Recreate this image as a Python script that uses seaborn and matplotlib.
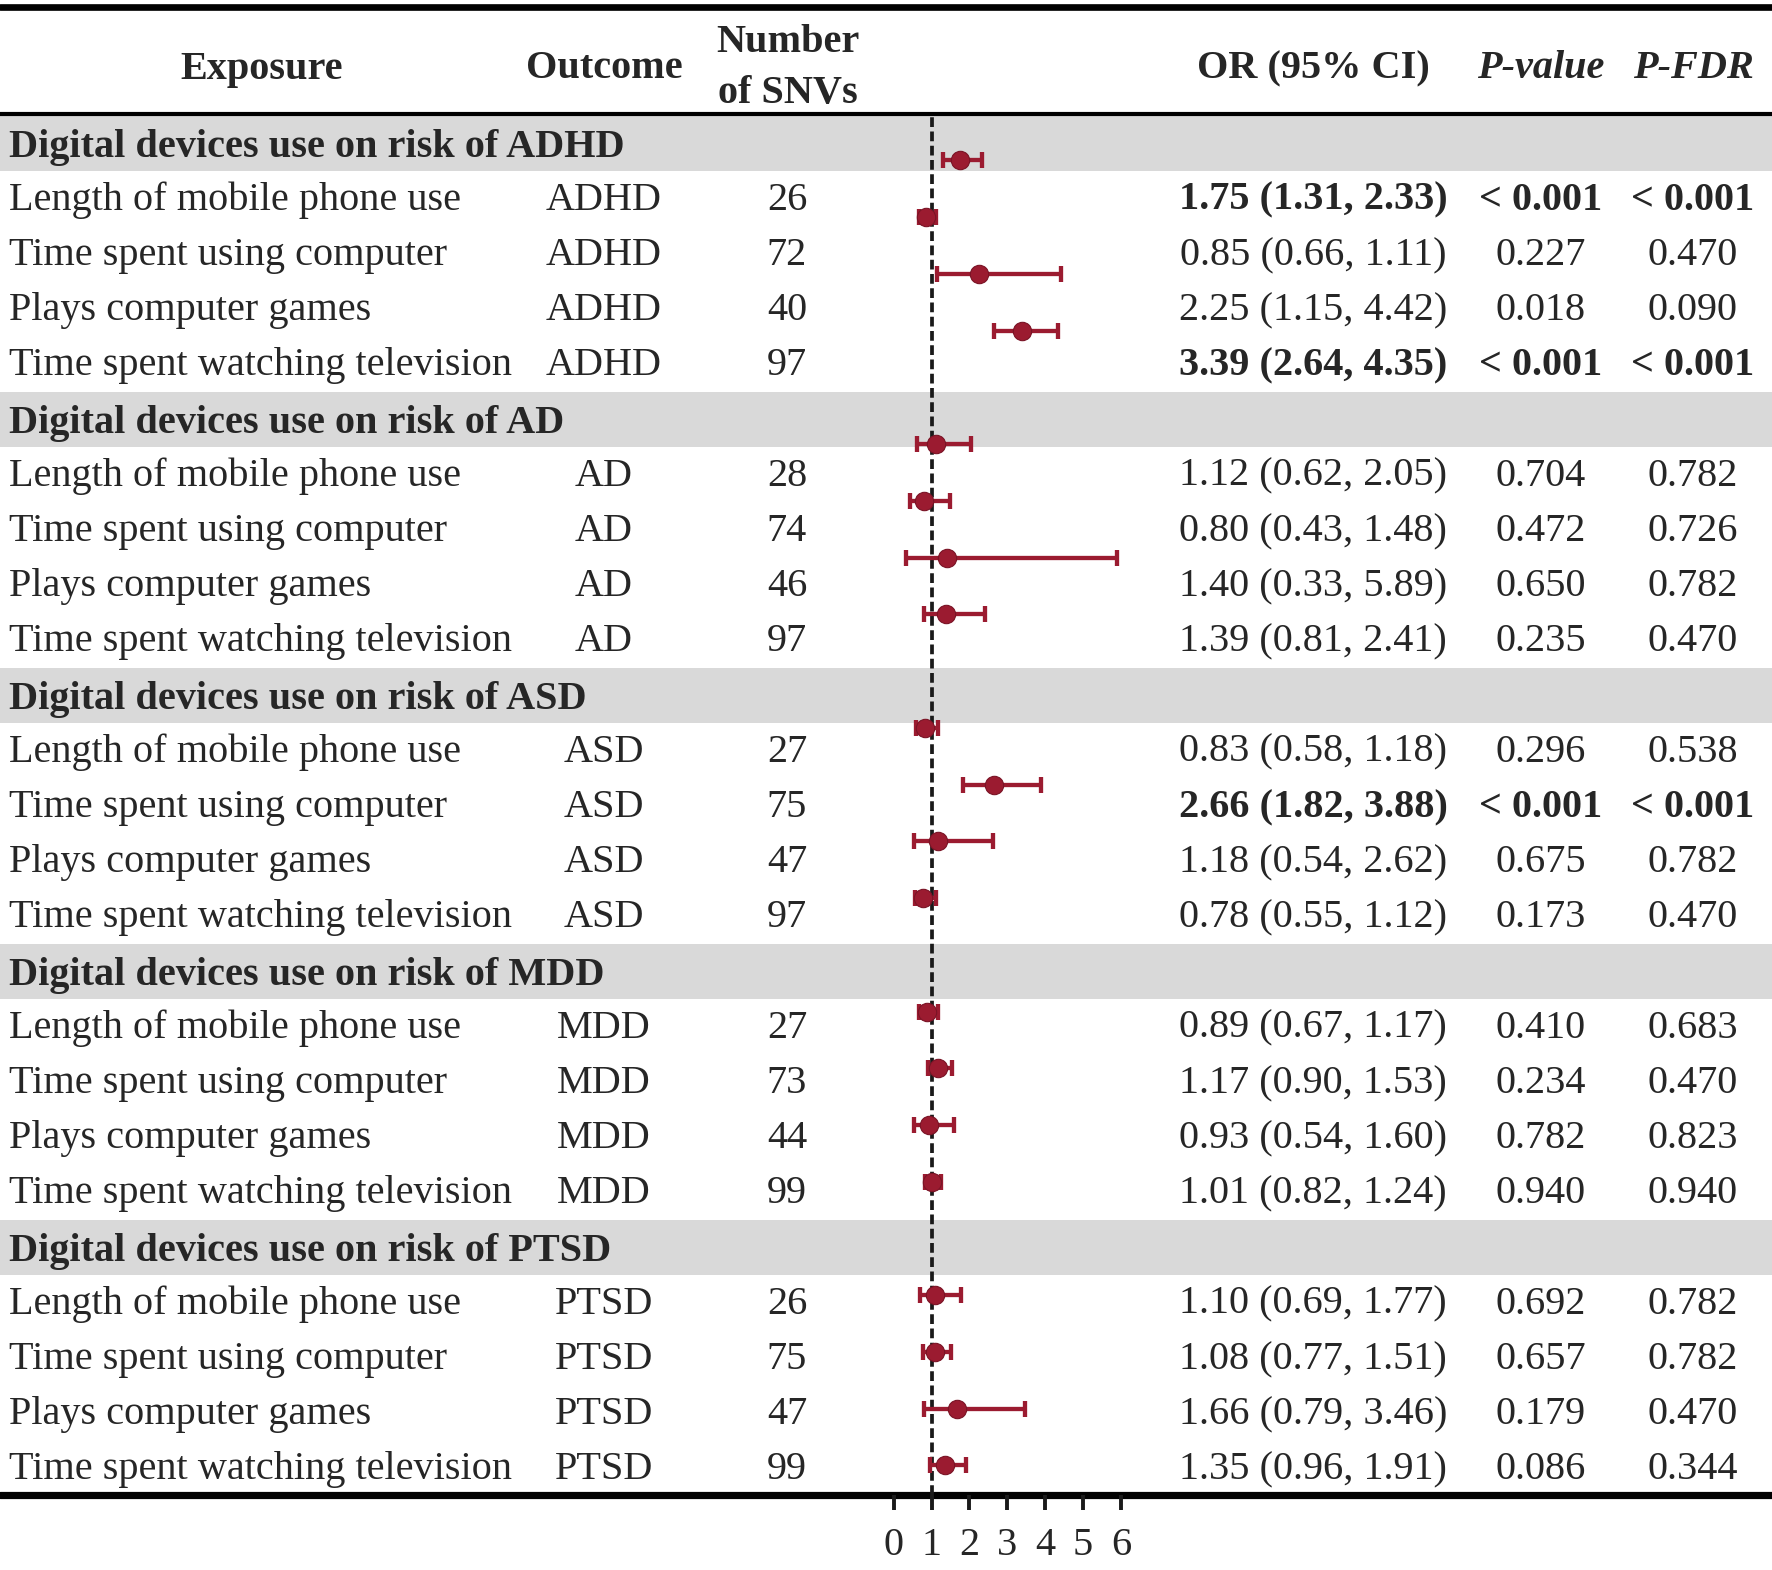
import matplotlib
matplotlib.use("Agg")
import matplotlib.pyplot as plt
import seaborn as sns
import pandas as pd

sns.set_style("white")
plt.rcParams["font.family"] = ["Liberation Serif", "DejaVu Serif"]

# Table data
outcomes = ["ADHD", "AD", "ASD", "MDD", "PTSD"]
exposures = [
    "Length of mobile phone use",
    "Time spent using computer",
    "Plays computer games",
    "Time spent watching television",
]
n_snvs = [26, 72, 40, 97, 28, 74, 46, 97, 27, 75, 47, 97, 27, 73, 44, 99, 26, 75, 47, 99]
or_vals = [1.75, 0.85, 2.25, 3.39, 1.12, 0.80, 1.40, 1.39, 0.83, 2.66, 1.18, 0.78,
           0.89, 1.17, 0.93, 1.01, 1.10, 1.08, 1.66, 1.35]
ci_lo = [1.31, 0.66, 1.15, 2.64, 0.62, 0.43, 0.33, 0.81, 0.58, 1.82, 0.54, 0.55,
         0.67, 0.90, 0.54, 0.82, 0.69, 0.77, 0.79, 0.96]
ci_hi = [2.33, 1.11, 4.42, 4.35, 2.05, 1.48, 5.89, 2.41, 1.18, 3.88, 2.62, 1.12,
         1.17, 1.53, 1.60, 1.24, 1.77, 1.51, 3.46, 1.91]
p_value = ["< 0.001", "0.227", "0.018", "< 0.001", "0.704", "0.472", "0.650", "0.235",
           "0.296", "< 0.001", "0.675", "0.173", "0.410", "0.234", "0.782", "0.940",
           "0.692", "0.657", "0.179", "0.086"]
p_fdr = ["< 0.001", "0.470", "0.090", "< 0.001", "0.782", "0.726", "0.782", "0.470",
         "0.538", "< 0.001", "0.782", "0.470", "0.683", "0.470", "0.823", "0.940",
         "0.782", "0.782", "0.470", "0.344"]
x_ticks = [0, 1, 2, 3, 4, 5, 6]

rows = []
for g, outc in enumerate(outcomes):
    for k, expo in enumerate(exposures):
        i = g * 4 + k
        rows.append({
            "exposure": expo, "outcome": outc, "n": n_snvs[i],
            "or": or_vals[i], "lo": ci_lo[i], "hi": ci_hi[i],
            "p": p_value[i], "fdr": p_fdr[i],
            "row": g * 5 + k + 1,
        })
df = pd.DataFrame(rows)

W, H = 1772, 1570
fig = plt.figure(figsize=(W / 100, H / 100), dpi=100)

# Table layer in pixel coordinates
ax_t = fig.add_axes([0, 0, 1, 1])
ax_t.set_xlim(0, W)
ax_t.set_ylim(H, 0)
ax_t.axis("off")

fs = 29
row_top0 = 116
row_h = 55.2
band_col = "#d9d9d9"

def row_center(r):
    return row_top0 + row_h * (r + 0.5)

ax_t.axhline(6.5, color="black", lw=4.8)
ax_t.axhline(113.5, color="black", lw=3)
ax_t.axhline(1495, color="black", lw=5.2, zorder=5)

hy = 69
ax_t.text(262, hy, "Exposure", ha="center", va="center", fontsize=fs, fontweight="bold")
ax_t.text(604, hy, "Outcome", ha="center", va="center", fontsize=fs, fontweight="bold")
ax_t.text(788, 43, "Number", ha="center", va="center", fontsize=fs, fontweight="bold")
ax_t.text(788, 94, "of SNVs", ha="center", va="center", fontsize=fs, fontweight="bold")
ax_t.text(1313, hy, "OR (95% CI)", ha="center", va="center", fontsize=fs, fontweight="bold")
ax_t.text(1541, hy, "P-value", ha="center", va="center", fontsize=fs,
          fontweight="bold", style="italic")
ax_t.text(1693, hy, "P-FDR", ha="center", va="center", fontsize=fs,
          fontweight="bold", style="italic")

for g, outc in enumerate(outcomes):
    r = g * 5
    top = row_top0 + row_h * r
    ax_t.axhspan(top, top + row_h, color=band_col, lw=0, zorder=0)
    ax_t.text(9, row_center(r) + 13, f"Digital devices use on risk of {outc}",
              ha="left", va="baseline", fontsize=fs, fontweight="bold")

for _, d in df.iterrows():
    y = row_center(d["row"]) + 11
    bold = d["fdr"] == "< 0.001"
    w = "bold" if bold else "normal"
    ax_t.text(9, y, d["exposure"], ha="left", va="baseline", fontsize=fs)
    ax_t.text(604, y, d["outcome"], ha="center", va="baseline", fontsize=fs)
    ax_t.text(787, y, str(d["n"]), ha="center", va="baseline", fontsize=fs)
    ax_t.text(1313, y, f"{d['or']:.2f} ({d['lo']:.2f}, {d['hi']:.2f})",
              ha="center", va="baseline", fontsize=fs, fontweight=w)
    ax_t.text(1541, y, d["p"], ha="center", va="baseline", fontsize=fs, fontweight=w)
    ax_t.text(1693, y, d["fdr"], ha="center", va="baseline", fontsize=fs, fontweight=w)

# Forest plot layer
fx0, fx1 = 838.5, 1172
fy_top, fy_bot = 113, 1495
ax_f = fig.add_axes([fx0 / W, (H - fy_bot) / H, (fx1 - fx0) / W, (fy_bot - fy_top) / H])
ax_f.set_facecolor("none")
ax_f.set_zorder(3)

red = "#9b1b30"
ax_f.axvline(1, color="#1a1a1a", lw=2.7, ls=(0, (2.6, 1.2)), zorder=1)
ax_f.errorbar(df["or"], df["row"], xerr=[df["or"] - df["lo"], df["hi"] - df["or"]],
              fmt="none", ecolor=red, elinewidth=3.1, capsize=5.8, capthick=3.1, zorder=2)
sns.scatterplot(data=df, x="or", y="row", ax=ax_f, color=red, s=175,
                edgecolor="#7a1426", linewidth=0.8, zorder=3, legend=False)

ax_f.set_xlim(-1.46, 7.35)
ax_f.set_ylim(24.52, 0.163)
ax_f.set_xticks(x_ticks)
ax_f.set_xticklabels([str(t) for t in x_ticks], fontsize=fs)
ax_f.set_yticks([])
ax_f.set_xlabel("")
ax_f.set_ylabel("")
for s in ax_f.spines.values():
    s.set_visible(False)
ax_f.tick_params(axis="x", direction="out", length=11, width=2.8, pad=12,
                 color="#1a1a1a", bottom=True)

fig.savefig("out.png", dpi=100)
